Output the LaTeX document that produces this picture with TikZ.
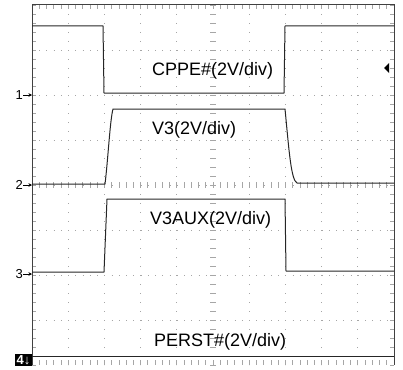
\documentclass[tikz,border=0pt]{standalone}
\usepackage{fontspec}
\setmainfont{Liberation Sans}
\usetikzlibrary{arrows.meta}

\begin{document}
\begin{tikzpicture}
    [
        x=1pt,
        y=-1pt,
        trace/.style={line width=1pt, black!85, line join=round},
        gridline/.style={gray!70, line width=0.9pt, dash pattern=on 0.9pt off #1},
        tickmark/.style={gray!70, line width=0.7pt},
        frameline/.style={black!75, line width=1pt},
        scalelabel/.style={font=\fontsize{18}{20}\selectfont, inner sep=0pt, anchor=west},
        chanlabel/.style={font=\fontsize{13}{13}\selectfont, inner sep=0pt, anchor=east},
        chanarrow/.style={-{Stealth[length=3.5pt,width=3.5pt]}, line width=0.8pt},
    ]
    \useasboundingbox (0,0) rectangle (403,369);

    % graticule, 10 x 8 divisions (36.2 x 45)
    \foreach \i in {1,...,9}
        \draw [gridline=8.1pt] (32+36.2*\i,5) -- (32+36.2*\i,365);
    \foreach \j in {1,...,7}
        \draw [gridline=6.34pt] (32,5+45*\j) -- (394,5+45*\j);

    % minor ticks on the edges and the centre lines
    \foreach \k in {0,...,50}
        {
            \draw [tickmark] (32+7.24*\k,5) -- (32+7.24*\k,9);
            \draw [tickmark] (32+7.24*\k,360) -- (32+7.24*\k,365);
            \draw [tickmark] (32+7.24*\k,182) -- (32+7.24*\k,188);
        }
    \foreach \k in {0,...,40}
        {
            \draw [tickmark] (32,5+9*\k) -- (36,5+9*\k);
            \draw [tickmark] (390,5+9*\k) -- (394,5+9*\k);
            \draw [tickmark] (210,5+9*\k) -- (216,5+9*\k);
        }

    % frame
    \draw [frameline] (32,365) -- (32,5) -- (394,5) -- (394,365);

    % traces
    \draw [trace] (32,26) -- (103,26) -- (104,93) -- (284,93) -- (285,26) -- (394,26); % CPPE#
    \draw [trace] (32,184) -- (105,184) .. controls (108,160) and (110,120) .. (113,109)
        -- (285,109) .. controls (289,150) and (291,180) .. (297,183) -- (394,183); % V3
    \draw [trace] (32,272) -- (104,272) -- (107,199) -- (285,199) -- (286,271) -- (394,271); % V3AUX
    \draw [trace] (32,356) -- (394,356); % PERST#

    % channel labels
    \node [scalelabel] (cppe) at (152,71) {CPPE\#(2V/div)};
    \node [scalelabel] (vthree) at (152,130) {V3(2V/div)};
    \node [scalelabel] (vaux) at (150,220) {V3AUX(2V/div)};
    \node [scalelabel] (perst) at (154,342) {PERST\#(2V/div)};

    % ground markers
    \coordinate (m1) at (32,95);
    \coordinate (m2) at (32,185);
    \coordinate (m3) at (32,274);
    \node [chanlabel] (ch1) at (23,95) {1};
    \node [chanlabel] (ch2) at (23,185) {2};
    \node [chanlabel] (ch3) at (23,274) {3};
    \draw [chanarrow] (ch1.east) -- (m1);
    \draw [chanarrow] (ch2.east) -- (m2);
    \draw [chanarrow] (ch3.east) -- (m3);
    \node [fill=black, text=white, font=\fontsize{13}{13}\selectfont\bfseries,
        inner xsep=1.5pt, inner ysep=1pt, anchor=south east]
        (ch4) at (32,366) {4↓};

    % trigger level marker
    \fill [black] (389,63) -- (389,73) -- (384,68) -- cycle;
\end{tikzpicture}
\end{document}
